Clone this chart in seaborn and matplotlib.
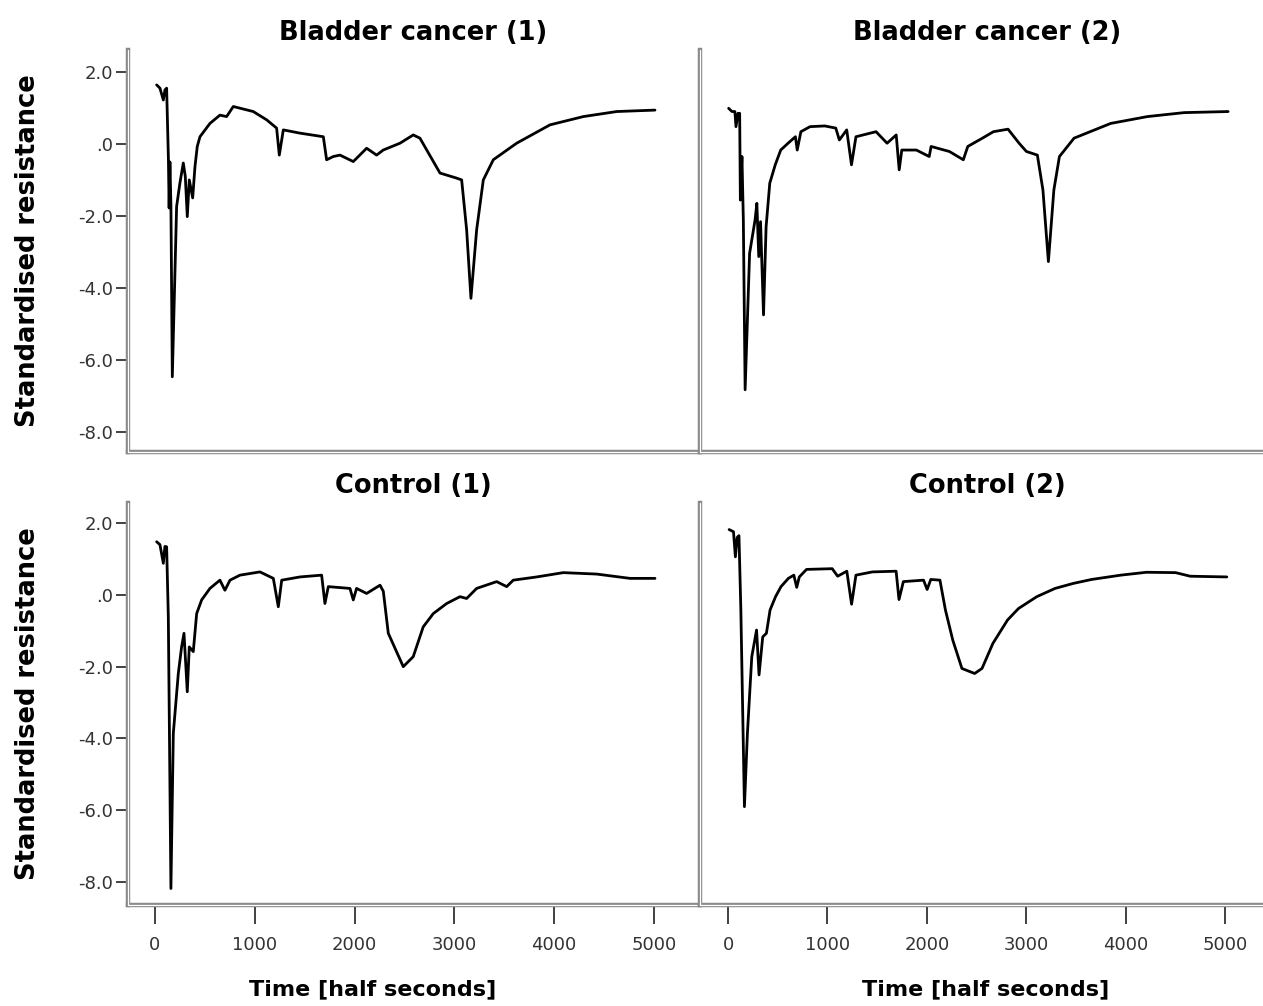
"""
Standardised resistance over time, bladder cancer vs control
"""
import pandas as pd
import numpy as np
import matplotlib
matplotlib.use('Agg')
import matplotlib.pyplot as plt
import seaborn as sns

# values (time in half seconds, standardised resistance)
bc1_t = [17, 50, 84, 100, 117, 135, 142, 150, 160, 174, 217, 250, 284, 304, 324, 344, 378, 401, 424, 451,
         551, 651, 718, 785, 985, 1119, 1219, 1246, 1286, 1453, 1687, 1720, 1787, 1854, 1987, 2121, 2221,
         2287, 2455, 2588, 2655, 2856, 3023, 3073, 3123, 3166, 3223, 3290, 3390, 3624, 3958, 4292, 4626, 5010]
bc1_v = [1.64, 1.55, 1.22, 1.5, 1.55, -0.44, -1.78, -0.5, -1.7, -6.47, -1.74, -1.09, -0.53, -0.9, -2.02, -1.0,
         -1.5, -0.63, -0.07, 0.2, 0.57, 0.8, 0.76, 1.04, 0.9, 0.67, 0.44, -0.31, 0.39, 0.3, 0.2, -0.44, -0.35,
         -0.31, -0.49, -0.12, -0.31, -0.17, 0.02, 0.25, 0.16, -0.81, -0.95, -1.0, -2.39, -4.29, -2.39, -1.0,
         -0.44, 0.02, 0.53, 0.76, 0.9, 0.94]

bc2_t = [6, 40, 69, 80, 100, 117, 124, 140, 154, 172, 217, 272, 290, 309, 327, 357, 383, 420, 475, 530, 604,
         678, 696, 733, 825, 973, 1084, 1120, 1194, 1242, 1287, 1489, 1600, 1692, 1722, 1748, 1895, 2024, 2043,
         2227, 2367, 2412, 2559, 2670, 2817, 2928, 3002, 3112, 3168, 3223, 3278, 3334, 3481, 3850, 4219, 4588, 5031]
bc2_v = [0.99, 0.9, 0.9, 0.48, 0.85, 0.85, -1.56, -0.35, -2.11, -6.83, -3.04, -2.11, -1.65, -3.13, -2.16, -4.75,
         -2.3, -1.09, -0.58, -0.17, 0.02, 0.2, -0.17, 0.34, 0.48, 0.5, 0.44, 0.11, 0.39, -0.58, 0.2, 0.34, 0.02,
         0.25, -0.72, -0.17, -0.17, -0.35, -0.07, -0.21, -0.44, -0.07, 0.16, 0.34, 0.41, 0.02, -0.21, -0.31,
         -1.28, -3.27, -1.28, -0.35, 0.16, 0.57, 0.76, 0.87, 0.9]

ct1_t = [17, 50, 84, 100, 117, 134, 160, 184, 234, 267, 291, 324, 344, 384, 418, 468, 551, 651, 701, 752, 852,
         1052, 1186, 1236, 1270, 1453, 1670, 1703, 1737, 1954, 1987, 2020, 2121, 2255, 2288, 2338, 2488, 2588,
         2688, 2789, 2923, 3056, 3123, 3223, 3424, 3524, 3590, 3825, 4091, 4426, 4760, 5010]
ct1_v = [1.48, 1.4, 0.88, 1.35, 1.34, -0.61, -8.18, -3.86, -2.19, -1.45, -1.07, -2.7, -1.45, -1.58, -0.52, -0.14,
         0.18, 0.41, 0.13, 0.41, 0.55, 0.64, 0.46, -0.33, 0.41, 0.5, 0.55, -0.24, 0.23, 0.18, -0.14, 0.18, 0.04,
         0.27, 0.1, -1.07, -2.0, -1.72, -0.89, -0.52, -0.24, -0.05, -0.1, 0.18, 0.37, 0.23, 0.41, 0.5, 0.62,
         0.58, 0.46, 0.46]

ct2_t = [11, 55, 74, 92, 110, 129, 165, 195, 239, 287, 312, 349, 386, 423, 478, 533, 607, 662, 691, 717, 790,
         1048, 1103, 1195, 1243, 1287, 1452, 1691, 1720, 1764, 1967, 2003, 2040, 2132, 2187, 2261, 2353, 2481,
         2555, 2665, 2812, 2922, 3106, 3290, 3474, 3658, 3951, 4209, 4503, 4650, 5018]
ct2_v = [1.82, 1.76, 1.06, 1.6, 1.65, -0.42, -5.9, -3.86, -1.72, -0.98, -2.23, -1.17, -1.07, -0.42, -0.05, 0.23,
         0.46, 0.55, 0.21, 0.5, 0.71, 0.73, 0.52, 0.66, -0.26, 0.55, 0.64, 0.66, -0.13, 0.37, 0.41, 0.15, 0.43,
         0.41, -0.42, -1.26, -2.05, -2.19, -2.05, -1.35, -0.7, -0.38, -0.05, 0.18, 0.32, 0.43, 0.55, 0.63, 0.62,
         0.52, 0.5]

titles = ['Bladder cancer (1)', 'Bladder cancer (2)', 'Control (1)', 'Control (2)']
yticks = [2.0, 0.0, -2.0, -4.0, -6.0, -8.0]
ytick_labels = ['2.0', '.0', '-2.0', '-4.0', '-6.0', '-8.0']
xticks = [0, 1000, 2000, 3000, 4000, 5000]
xtick_labels = ['0', '1000', '2000', '3000', '4000', '5000']

frames = []
for name, t, v in zip(titles, [bc1_t, bc2_t, ct1_t, ct2_t], [bc1_v, bc2_v, ct1_v, ct2_v]):
    frames.append(pd.DataFrame({'panel': name, 'time': t, 'res': v}))
data = pd.concat(frames, ignore_index=True)

sns.set_style('white')
plt.rcParams['font.family'] = ['DejaVu Sans']

fig = plt.figure(figsize=(12.63, 10.06), dpi=100)
W, H = 1263, 1006
boxes = [(128, 699, 50, 452), (700, 1263, 50, 452), (128, 699, 503, 905), (700, 1263, 503, 905)]
xlims = [(-270, 5451), (-282, 5382), (-270, 5451), (-282, 5382)]
ylims = [(-8.56, 2.61), (-8.56, 2.61), (-8.64, 2.56), (-8.64, 2.56)]
spine_grey = '#8a8a8a'
text_grey = '#333333'

for i, name in enumerate(titles):
    l, r, t, b = boxes[i]
    ax = fig.add_axes([l / W, (H - b) / H, (r - l) / W, (b - t) / H])
    sub = data[data['panel'] == name]
    sns.lineplot(data=sub, x='time', y='res', ax=ax, color='black', lw=2.0,
                 sort=False, estimator=None)
    ax.set_xlim(*xlims[i])
    ax.set_ylim(*ylims[i])
    ax.set_title(name, fontsize=18.5, fontweight='bold', pad=7, color='black',
                 x=0.5 if i % 2 == 0 else 0.51)

    for side in ['top', 'right']:
        ax.spines[side].set_visible(False)
    for side in ['left', 'bottom']:
        ax.spines[side].set_visible(True)
        ax.spines[side].set_color(spine_grey)
        ax.spines[side].set_linewidth(3.2)
    # light centre line gives the double-rule look
    ax.plot([0, 0], [0, 1], transform=ax.transAxes, color='white', lw=0.9, clip_on=False, zorder=5)
    ax.plot([0, 1], [0, 0], transform=ax.transAxes, color='white', lw=0.9, clip_on=False, zorder=5)

    if i % 2 == 0:
        ax.set_yticks(yticks)
        ax.set_yticklabels(ytick_labels)
        ax.tick_params(axis='y', left=True, length=9, width=1.3, color=text_grey, pad=2,
                       labelsize=13, labelcolor=text_grey)
        ax.set_ylabel('Standardised resistance', fontsize=18.5, fontweight='bold', color='black')
        ax.yaxis.set_label_coords(-0.152, 0.5)
    else:
        ax.set_yticks([])
        ax.set_ylabel('')

    if i >= 2:
        ax.set_xticks(xticks)
        ax.set_xticklabels(xtick_labels)
        ax.tick_params(axis='x', bottom=True, length=14, width=1.3, color=text_grey, pad=8,
                       labelsize=13, labelcolor=text_grey)
        ax.set_xlabel('Time [half seconds]', fontsize=16, fontweight='bold', color='black')
        ax.xaxis.set_label_coords(0.429 if i == 2 else 0.508, -0.185)
    else:
        ax.set_xticks([])
        ax.set_xlabel('')

fig.savefig('out.png', dpi=100)
